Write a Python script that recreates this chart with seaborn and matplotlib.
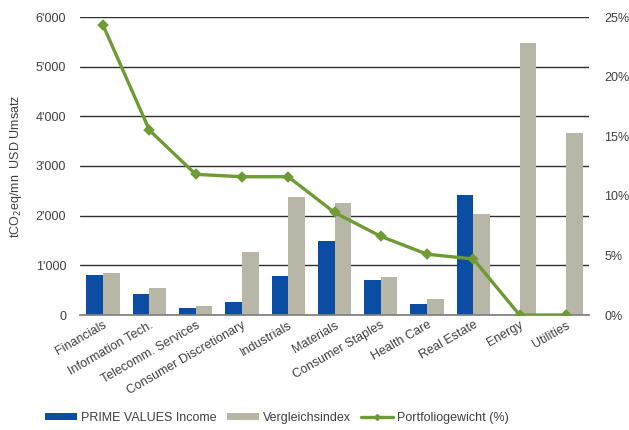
import matplotlib
matplotlib.use("Agg")
import matplotlib.pyplot as plt
import seaborn as sns
import pandas as pd
from matplotlib.ticker import FixedFormatter, FixedLocator
from matplotlib.lines import Line2D
from matplotlib.patches import Patch

categories = ["Financials", "Information Tech.", "Telecomm. Services", "Consumer Discretionary",
              "Industrials", "Materials", "Consumer Staples", "Health Care", "Real Estate",
              "Energy", "Utilities"]
prime_values = [805, 430, 140, 255, 785, 1495, 705, 220, 2415, 0, 0]
benchmark = [850, 540, 180, 1275, 2380, 2260, 758, 328, 2030, 5475, 3670]
weights = [24.3, 15.5, 11.8, 11.6, 11.6, 8.6, 6.6, 5.1, 4.7, 0.0, 0.0]
series_names = ["PRIME VALUES Income", "Vergleichsindex"]
line_name = "Portfoliogewicht (%)"
left_ticks = [0, 1000, 2000, 3000, 4000, 5000, 6000]
left_labels = ["0", "1'000", "2'000", "3'000", "4'000", "5'000", "6'000"]
right_ticks = [0, 5, 10, 15, 20, 25]
right_labels = ["0%", "5%", "10%", "15%", "20%", "25%"]

BLUE = "#0a4da2"
GRAY = "#b8b6a6"
GREEN = "#6f9b34"
TXT = "#404040"
FS = 9

sns.set_theme(style="white")
plt.rcParams["font.family"] = ["Liberation Sans", "DejaVu Sans"]
plt.rcParams["font.size"] = FS

df = pd.DataFrame({
    "cat": categories * 2,
    "val": prime_values + benchmark,
    "series": [series_names[0]] * len(categories) + [series_names[1]] * len(categories),
})

fig = plt.figure(figsize=(6.29, 4.30), dpi=100)
ax = fig.add_axes([80 / 629, 1 - 315 / 430, (589 - 80) / 629, (315 - 17) / 430])

sns.barplot(data=df, x="cat", y="val", hue="series", order=categories,
            hue_order=series_names, palette=[BLUE, GRAY], width=0.72,
            gap=0.0, ax=ax, legend=False, saturation=1, edgecolor="none")
ax.set_ylim(0, 6000)
ax.yaxis.set_major_locator(FixedLocator(left_ticks))
ax.yaxis.set_major_formatter(FixedFormatter(left_labels))
ax.grid(axis="y", color="#303030", linewidth=1.0)
ax.set_axisbelow(True)
for s in ["left", "right", "top"]:
    ax.spines[s].set_visible(False)
ax.spines["bottom"].set_color("#808080")
ax.set_xlabel("")
ax.set_ylabel("tCO$_2$eq/mn  USD Umsatz", color=TXT, fontsize=FS, labelpad=8)
ax.tick_params(axis="both", length=0, colors=TXT, labelsize=FS)
ax.tick_params(axis="y", pad=10)
ax.tick_params(axis="x", pad=3)
plt.setp(ax.get_xticklabels(), rotation=30, ha="right", rotation_mode="anchor")

ax2 = ax.twinx()
sns.pointplot(x=categories, y=weights, ax=ax2, color=GREEN, markers="D",
              markersize=4, linewidth=2.4, order=categories)
ax2.set_ylim(0, 25)
ax2.yaxis.set_major_locator(FixedLocator(right_ticks))
ax2.yaxis.set_major_formatter(FixedFormatter(right_labels))
ax2.tick_params(axis="y", length=0, colors=TXT, labelsize=FS, pad=11)
ax2.grid(False)
for s in ax2.spines.values():
    s.set_visible(False)
ax2.set_xlim(-0.5, len(categories) - 0.5)
ax.set_xlim(-0.5, len(categories) - 0.5)

handles = [
    Patch(facecolor=BLUE, edgecolor="none"),
    Patch(facecolor=GRAY, edgecolor="none"),
    Line2D([0], [0], color=GREEN, linewidth=2.4, marker="D", markersize=3),
]
leg = fig.legend(handles, series_names + [line_name], loc="lower center",
                 bbox_to_anchor=(0.44, -0.012), ncol=3, frameon=False,
                 handlelength=2.6, handleheight=0.45, handletextpad=0.3,
                 columnspacing=0.8, fontsize=FS)
for t in leg.get_texts():
    t.set_color(TXT)

fig.savefig("out.png", dpi=100)
